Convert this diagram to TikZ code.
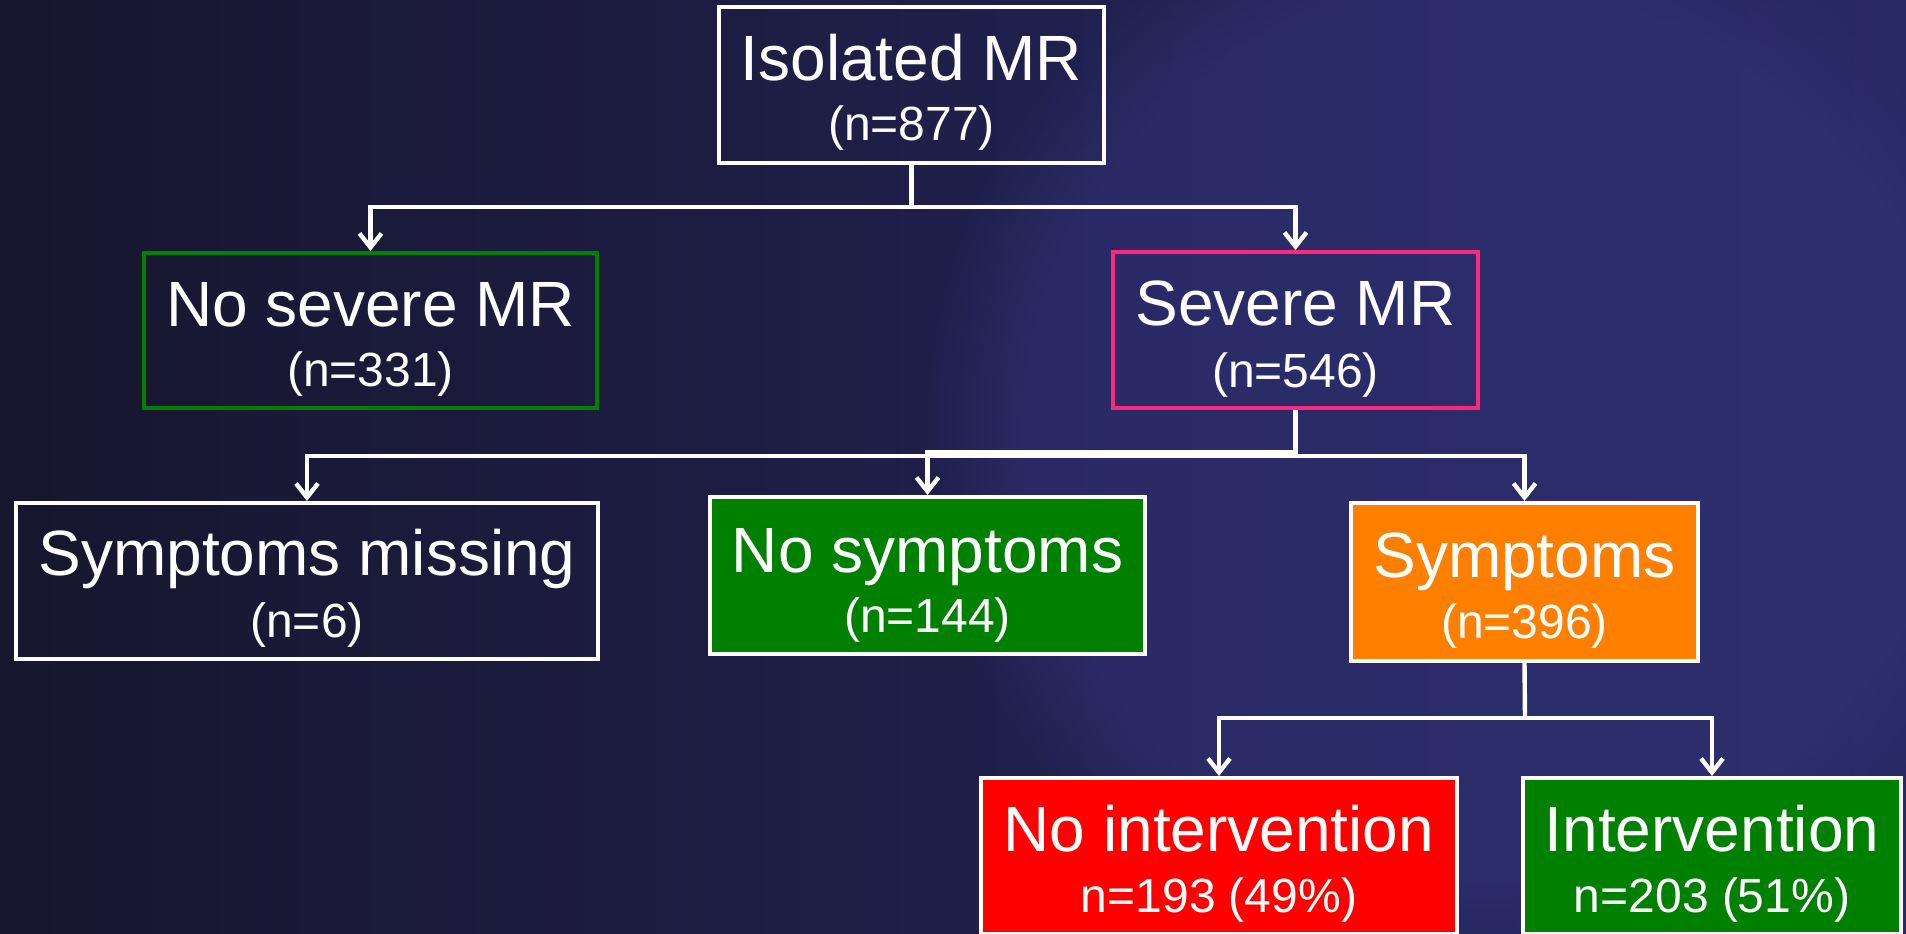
\documentclass[tikz,border=0pt]{standalone}
\usepackage{fontspec}
\setmainfont{Liberation Sans}
\usetikzlibrary{arrows.meta,fadings}
\definecolor{bgL}{RGB}{23,22,46}
\definecolor{bgM}{RGB}{31,31,74}
\definecolor{bgR}{RGB}{40,42,100}
\definecolor{glow}{RGB}{48,50,118}
\definecolor{grn}{RGB}{0,128,0}
\definecolor{pnk}{RGB}{255,40,125}
\definecolor{org}{RGB}{255,128,0}
\definecolor{rd}{RGB}{255,0,0}
\begin{document}
\begin{tikzpicture}[x=0.5pt,y=-0.5pt,
  box/.style={rectangle, draw=white, line width=2pt, inner sep=0pt},
  big/.style={text=white, font=\fontsize{32}{38}\selectfont, inner sep=0pt, anchor=base},
  small/.style={text=white, font=\fontsize{24}{29}\selectfont, inner sep=0pt, anchor=base},
  conn/.style={draw=white, line width=2.2pt},
  arr/.style={conn, -{Straight Barb[length=7pt,width=11pt]}}]
\useasboundingbox (0,0) rectangle (1906,933);
\shade[left color=bgL, right color=bgR, middle color=bgM] (0,0) rectangle (1906,933);
\fill[glow, opacity=0.6, path fading=circle with fuzzy edge 20 percent] (1480,430) circle (560);
% coordinates of the junctions
\coordinate (j1) at (911.5,207);
\coordinate (j2) at (1295.5,456);
\coordinate (j2b) at (1295.5,452);
\coordinate (j3) at (1525,718);
% boxes
\node[box, minimum width=385*0.5pt, minimum height=156*0.5pt] (iso) at (911.5,85) {};
\node[box, draw=grn, minimum width=453*0.5pt, minimum height=155*0.5pt] (nosev) at (370.5,330.5) {};
\node[box, draw=pnk, minimum width=365*0.5pt, minimum height=156*0.5pt] (sev) at (1295.5,330) {};
\node[box, minimum width=582*0.5pt, minimum height=156*0.5pt] (miss) at (307,581) {};
\node[box, fill=grn, minimum width=435*0.5pt, minimum height=157*0.5pt] (nosym) at (927.5,575.5) {};
\node[box, fill=org, minimum width=347*0.5pt, minimum height=158*0.5pt] (sym) at (1524.5,582) {};
\node[box, fill=rd, minimum width=476*0.5pt, minimum height=156*0.5pt] (noint) at (1219,856) {};
\node[box, fill=grn, minimum width=378*0.5pt, minimum height=156*0.5pt] (int) at (1712,856) {};
% connectors
\draw[conn] (iso.south) -- (j1);
\draw[arr] (j1) -| (nosev.north);
\draw[arr] (j1) -| (sev.north);
\draw[conn] (sev.south) -- (j2);
\draw[arr] (j2) -| (miss.north);
\draw[arr] (j2b) -| (nosym.north);
\draw[arr] (j2) -| (sym.north);
\draw[conn] (sym.south) -- (j3);
\draw[arr] (j3) -| (noint.north);
\draw[arr] (j3) -| (int.north);
% texts
\node[big] (isoA) at (911.5,80) {Isolated MR};
\node[small] (isoB) at (911.5,140) {(n=877)};
\node[big] (nosevA) at (370.5,326) {No severe MR};
\node[small] (nosevB) at (370.5,386) {(n=331)};
\node[big] (sevA) at (1295.5,325) {Severe MR};
\node[small] (sevB) at (1295.5,387) {(n=546)};
\node[big] (missA) at (307,575) {Symptoms missing};
\node[small] (missB) at (307,637) {(n=6)};
\node[big] (nosymA) at (927.5,572) {No symptoms};
\node[small] (nosymB) at (927.5,632) {(n=144)};
\node[big] (symA) at (1524.5,577) {Symptoms};
\node[small] (symB) at (1524.5,638) {(n=396)};
\node[big] (nointA) at (1219,851) {No intervention};
\node[small] (nointB) at (1219,912) {n=193 (49\%)};
\node[big] (intA) at (1712,851) {Intervention};
\node[small] (intB) at (1712,912) {n=203 (51\%)};
\end{tikzpicture}
\end{document}
